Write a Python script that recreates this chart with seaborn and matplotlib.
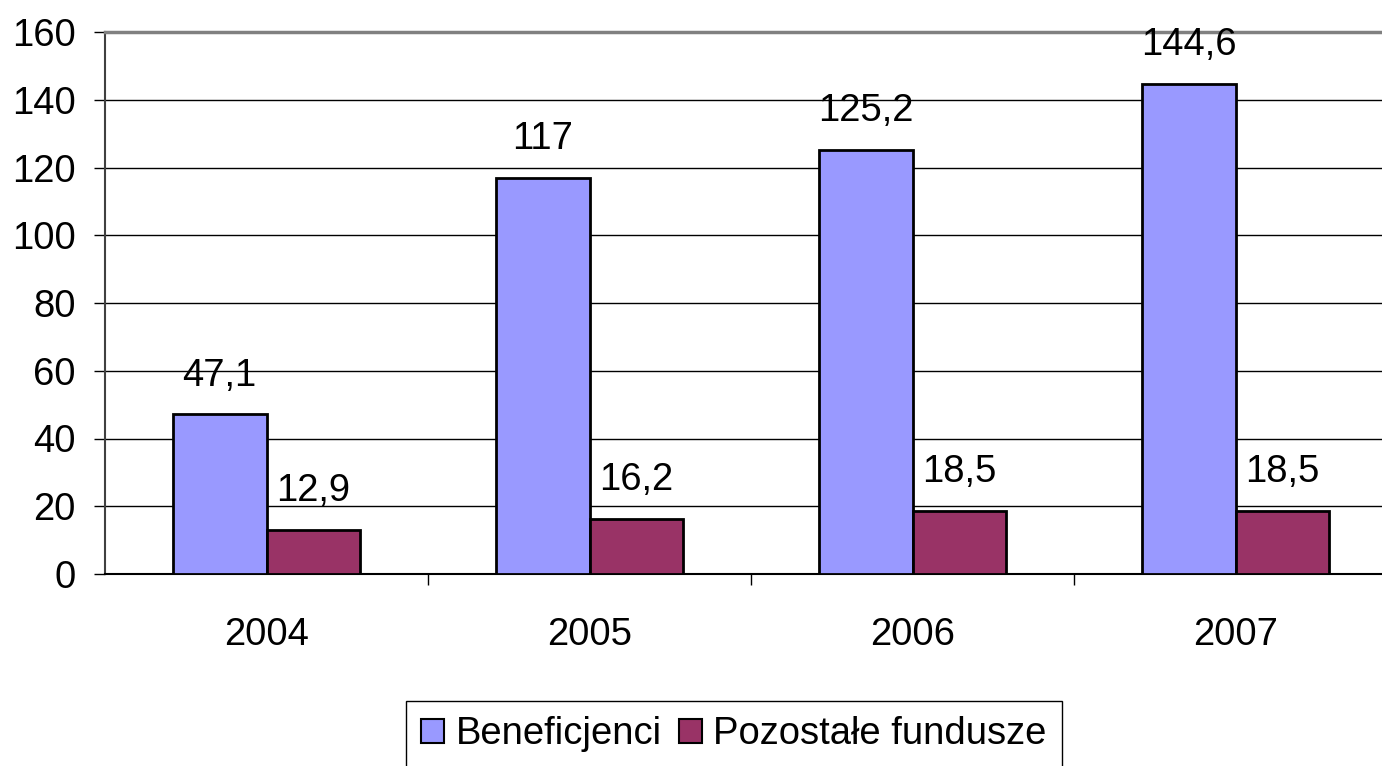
import matplotlib
matplotlib.use("Agg")
import matplotlib.pyplot as plt
import seaborn as sns
import pandas as pd
from matplotlib.patches import Patch

years = ["2004", "2005", "2006", "2007"]
series_names = ["Beneficjenci", "Pozostałe fundusze"]
beneficjenci = [47.1, 117, 125.2, 144.6]
pozostale = [12.9, 16.2, 18.5, 18.5]
colors = ["#9999FF", "#993366"]

df = pd.DataFrame({
    "year": years * 2,
    "series": [series_names[0]] * 4 + [series_names[1]] * 4,
    "value": beneficjenci + pozostale,
})

sns.set_theme(style="white")
plt.rcParams["font.family"] = ["Liberation Sans", "DejaVu Sans"]
plt.rcParams["text.color"] = "black"
plt.rcParams["xtick.color"] = "black"
plt.rcParams["ytick.color"] = "black"

W, H = 1382, 766
fig = plt.figure(figsize=(W / 100, H / 100), dpi=100)
left, right, top, bottom = 105, 105 + 4 * 323, 32, 574
ax = fig.add_axes([left / W, 1 - bottom / H, (right - left) / W, (bottom - top) / H])

sns.barplot(data=df, x="year", y="value", hue="series", order=years,
            hue_order=series_names, palette=colors, width=0.58, saturation=1,
            edgecolor="black", linewidth=2, ax=ax, legend=False, zorder=3)

ax.set_ylim(0, 160)
ax.set_xlim(-0.5, 3.5)
ax.set_yticks(range(0, 161, 20))
ax.yaxis.grid(True, color="black", linewidth=1)
ax.set_axisbelow(True)
ax.set_xlabel("")
ax.set_ylabel("")

FS = 27.5
for c in ax.containers:
    labels = [("%g" % v).replace(".", ",") for v in c.datavalues]
    ax.bar_label(c, labels=labels, padding=15, fontsize=FS, color="black")

ax.tick_params(axis="y", labelsize=FS, left=True, length=8, width=1, color="black", pad=13)
ax.tick_params(axis="x", labelsize=FS, bottom=False, pad=25)
ax.set_xticks([0.5, 1.5, 2.5], minor=True)
ax.tick_params(axis="x", which="minor", bottom=True, length=8, width=1, color="black")

ax.spines["left"].set_color("#404040")
ax.spines["left"].set_linewidth(1.5)
ax.spines["bottom"].set_color("black")
ax.spines["bottom"].set_linewidth(1.5)
ax.spines["top"].set_color("#808080")
ax.spines["top"].set_linewidth(2.5)
ax.spines["right"].set_visible(False)

handles = [Patch(facecolor=colors[i], edgecolor="black", linewidth=1.5) for i in range(2)]
fig.legend(handles, series_names, loc="upper center",
           bbox_to_anchor=(734 / W, 1 - 701 / H), ncol=2, fontsize=FS,
           frameon=True, fancybox=False, edgecolor="black", framealpha=1,
           handlelength=0.6, handleheight=0.6, handletextpad=0.3,
           columnspacing=0.45, borderpad=0.4, borderaxespad=0)

fig.savefig("out.png", dpi=100)
